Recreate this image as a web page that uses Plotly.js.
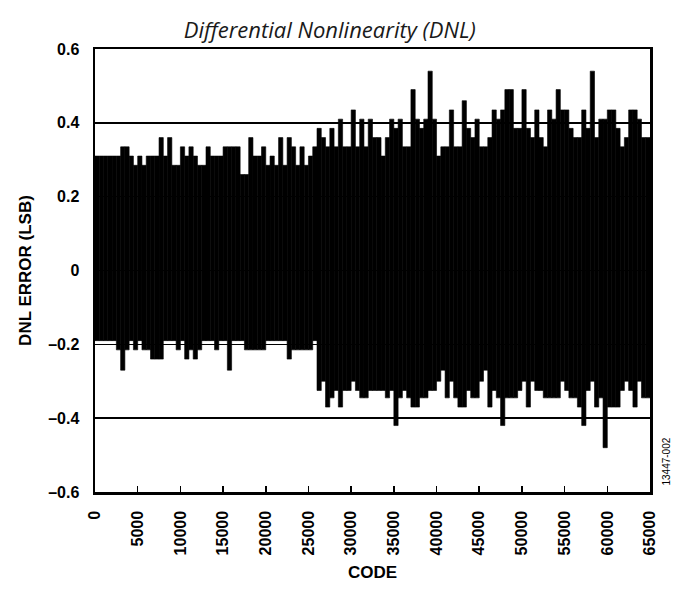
<!DOCTYPE html>
<html>
<head>
<meta charset="utf-8">
<script src="https://cdn.plot.ly/plotly-3.0.1.min.js"></script>
<style>html,body{margin:0;padding:0;background:#fff;}#chart{width:688px;height:595px;}</style>
</head>
<body>
<div id="chart"></div>
<script>
// Bin start codes (each bin spans 500 codes)
var binStart = [];
for (var k = 0; k < 130; k++) binStart.push(k * 500);
var binWidth = 500;

// Upper envelope of DNL per bin (LSB)
var dnlTop = [
 0.31,0.31,0.31,0.31,0.31,0.31,0.335,0.335,0.31,0.285,
 0.31,0.285,0.31,0.31,0.31,0.36,0.31,0.36,0.285,0.285,
 0.335,0.31,0.335,0.31,0.285,0.285,0.335,0.31,0.31,0.31,
 0.335,0.335,0.335,0.335,0.26,0.26,0.36,0.31,0.31,0.335,
 0.285,0.31,0.285,0.36,0.285,0.36,0.335,0.285,0.335,0.285,
 0.31,0.335,0.385,0.36,0.335,0.385,0.335,0.41,0.335,0.335,
 0.435,0.335,0.41,0.335,0.41,0.36,0.36,0.31,0.36,0.41,
 0.385,0.41,0.335,0.335,0.49,0.41,0.385,0.41,0.54,0.41,
 0.31,0.335,0.335,0.435,0.335,0.335,0.46,0.385,0.36,0.41,
 0.335,0.335,0.36,0.435,0.41,0.435,0.49,0.49,0.385,0.385,
 0.49,0.385,0.36,0.435,0.36,0.335,0.435,0.41,0.49,0.435,
 0.435,0.385,0.36,0.36,0.435,0.385,0.54,0.36,0.41,0.41,
 0.435,0.435,0.385,0.335,0.36,0.435,0.435,0.41,0.36,0.36
];

// Lower envelope of DNL per bin (LSB)
var dnlBottom = [
 -0.19,-0.19,-0.19,-0.19,-0.19,-0.215,-0.27,-0.215,-0.19,-0.215,
 -0.19,-0.215,-0.215,-0.24,-0.24,-0.24,-0.19,-0.19,-0.19,-0.215,
 -0.19,-0.24,-0.215,-0.24,-0.215,-0.19,-0.19,-0.19,-0.215,-0.19,
 -0.19,-0.27,-0.19,-0.19,-0.19,-0.215,-0.215,-0.215,-0.215,-0.215,
 -0.19,-0.19,-0.19,-0.19,-0.19,-0.24,-0.215,-0.215,-0.215,-0.215,
 -0.215,-0.19,-0.325,-0.30,-0.37,-0.345,-0.325,-0.37,-0.325,-0.325,
 -0.30,-0.325,-0.345,-0.345,-0.325,-0.325,-0.325,-0.325,-0.345,-0.325,
 -0.42,-0.345,-0.325,-0.345,-0.37,-0.37,-0.345,-0.345,-0.325,-0.325,
 -0.30,-0.27,-0.345,-0.30,-0.345,-0.37,-0.37,-0.325,-0.345,-0.345,
 -0.30,-0.27,-0.37,-0.325,-0.345,-0.42,-0.345,-0.345,-0.345,-0.325,
 -0.30,-0.37,-0.30,-0.325,-0.325,-0.345,-0.345,-0.345,-0.345,-0.30,
 -0.325,-0.345,-0.345,-0.37,-0.42,-0.325,-0.30,-0.37,-0.345,-0.48,
 -0.37,-0.37,-0.37,-0.325,-0.30,-0.325,-0.37,-0.30,-0.345,-0.345
];

var yTickVals = [0.6, 0.4, 0.2, 0, -0.2, -0.4, -0.6];
var yTickText = ["0.6", "0.4", "0.2", "0", "\u20130.2", "\u20130.4", "\u20130.6"];
var xTickVals = [0,5000,10000,15000,20000,25000,30000,35000,40000,45000,50000,55000,60000,65000];

var trace = {
  type: 'bar',
  x: binStart,
  y: dnlTop.map(function (t, i) { return t - dnlBottom[i]; }),
  base: dnlBottom,
  width: binWidth,
  offset: 0,
  marker: { color: '#000', line: { color: '#000', width: 0.6 } },
  hoverinfo: 'skip'
};

var tickFont = { family: 'Liberation Sans, Arial, sans-serif', size: 16, color: '#000', weight: 'bold' };
var axTitleFont = { family: 'Liberation Sans, Arial, sans-serif', size: 17, color: '#000', weight: 'bold' };

var layout = {
  width: 688, height: 595,
  margin: { l: 95, r: 38, t: 49, b: 103 },
  paper_bgcolor: '#fff', plot_bgcolor: '#fff',
  showlegend: false,
  bargap: 0,
  title: {
    text: 'Differential Nonlinearity (DNL)',
    font: { family: 'Open Sans, Noto Sans, sans-serif', size: 22, color: '#1a1a1a', style: 'italic' },
    x: 0.423, xanchor: 'center', xref: 'paper',
    y: 0.949, yanchor: 'middle', yref: 'container'
  },
  xaxis: {
    range: [0, 65000],
    tickvals: xTickVals,
    ticktext: xTickVals.map(String),
    tickangle: -90,
    ticks: 'inside', ticklen: 6, tickwidth: 1.5, tickcolor: '#000',
    ticklabelstandoff: 10,
    showgrid: false, zeroline: false,
    showline: true, mirror: true, linecolor: '#000', linewidth: 2.5,
    tickfont: tickFont,
    title: { text: 'CODE', font: axTitleFont, standoff: 12 }
  },
  yaxis: {
    range: [-0.6, 0.6],
    tickvals: yTickVals,
    ticktext: yTickText,
    ticks: '',
    ticklabelstandoff: 10,
    showgrid: true, gridcolor: '#000', gridwidth: 1.5,
    zeroline: false,
    showline: true, mirror: true, linecolor: '#000', linewidth: 2.5,
    tickfont: tickFont,
    layer: 'above traces',
    title: { text: 'DNL ERROR (LSB)', font: axTitleFont, standoff: 12 }
  },
  annotations: [{
    text: '13447-002',
    xref: 'paper', yref: 'paper',
    x: 1.03, y: 0.068, xanchor: 'center', yanchor: 'middle',
    textangle: -90, showarrow: false,
    font: { family: 'Liberation Sans, Arial, sans-serif', size: 10, color: '#000' }
  }]
};

Plotly.newPlot('chart', [trace], layout, { displayModeBar: false, staticPlot: true });
</script>
</body>
</html>
